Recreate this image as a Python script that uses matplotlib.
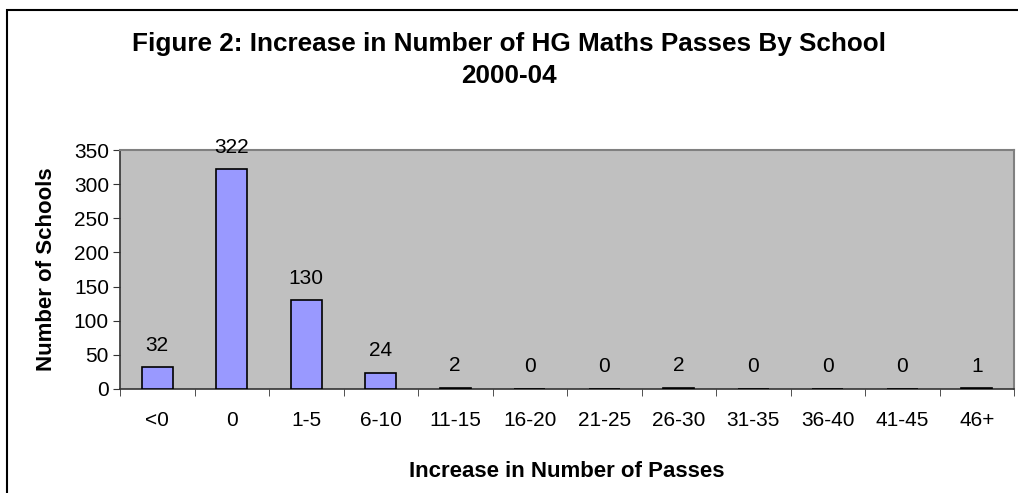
import matplotlib.pyplot as plt
from matplotlib.patches import Rectangle
import numpy as np

plt.rcParams['font.family'] = ['Liberation Sans', 'DejaVu Sans']

# data
categories = ['<0', '0', '1-5', '6-10', '11-15', '16-20', '21-25', '26-30',
              '31-35', '36-40', '41-45', '46+']
schools = [32, 322, 130, 24, 2, 0, 0, 2, 0, 0, 0, 1]
y_ticks = [0, 50, 100, 150, 200, 250, 300, 350]

fig = plt.figure(figsize=(10.18, 4.93), dpi=100)
ax = fig.add_axes([120/1018, 1-389/493, 894/1018, 239/493])

x = np.arange(len(categories))
ax.bar(x, schools, width=0.42, color='#9999FF', edgecolor='black', linewidth=1.2, zorder=3)
for xi, v in zip(x, schools):
    ax.annotate(str(v), (xi, v), xytext=(0, 9), textcoords='offset points',
                ha='center', va='bottom', fontsize=15)

ax.set_facecolor('#C0C0C0')
ax.set_xlim(-0.5, len(categories) - 0.5)
ax.set_ylim(0, 350)
ax.set_yticks(y_ticks)
ax.set_yticklabels([str(t) for t in y_ticks], fontsize=15)
ax.set_xticks(x)
ax.set_xticklabels(categories, fontsize=15)
ax.tick_params(axis='x', length=0, pad=16)
ax.set_xticks(np.arange(-0.5, len(categories)), minor=True)
ax.tick_params(axis='x', which='minor', length=5, direction='out', color='#333333')
ax.tick_params(axis='y', length=5, direction='out', color='#333333', pad=3)

for s in ['left', 'bottom']:
    ax.spines[s].set_color('#333333')
    ax.spines[s].set_linewidth(1.2)
for s in ['top', 'right']:
    ax.spines[s].set_color('#808080')
    ax.spines[s].set_linewidth(1.5)

ax.set_xlabel('Increase in Number of Passes', fontsize=16, fontweight='bold', labelpad=22)
ax.set_ylabel('Number of Schools', fontsize=16, fontweight='bold', labelpad=12)

fig.text(0.5, 1-60/493, 'Figure 2: Increase in Number of HG Maths Passes By School\n2000-04',
         ha='center', va='center', fontsize=18.8, fontweight='bold', linespacing=1.45)

# outer chart border
fig.patches.append(Rectangle((7/1018, -0.1), 1.2, 1.1 - 10/493, transform=fig.transFigure,
                             fill=False, edgecolor='black', linewidth=1.5))

plt.savefig('out.png')
